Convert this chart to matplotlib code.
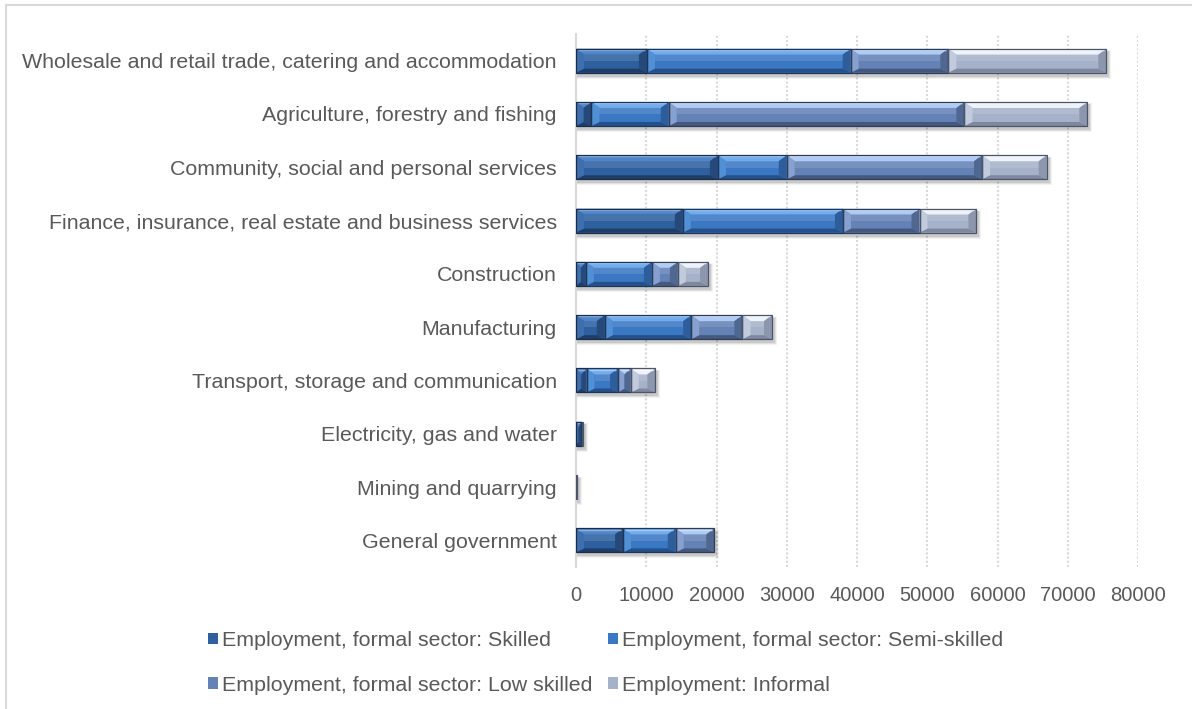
import numpy as np
import matplotlib
matplotlib.use("Agg")
import matplotlib.pyplot as plt
from matplotlib.patches import Polygon, Rectangle
from matplotlib.lines import Line2D
from matplotlib import colors as mcolors

plt.rcParams['font.family'] = ['Liberation Sans', 'DejaVu Sans']

# employment by industry, top to bottom
industries = [
    "Wholesale and retail trade, catering and accommodation",
    "Agriculture, forestry and fishing",
    "Community, social and personal services",
    "Finance, insurance, real estate and business services",
    "Construction",
    "Manufacturing",
    "Transport, storage and communication",
    "Electricity, gas and water",
    "Mining and quarrying",
    "General government",
]
skilled = [10100, 2200, 20200, 15200, 1400, 4100, 1500, 700, 20, 6700]
semi_skilled = [29000, 11000, 9800, 22800, 9400, 12300, 4500, 150, 20, 7500]
low_skilled = [13900, 42100, 27800, 10900, 3700, 7300, 1800, 50, 30, 5500]
informal = [22500, 17500, 9200, 8100, 4300, 4200, 3500, 50, 80, 0]

series_names = [
    "Employment, formal sector: Skilled",
    "Employment, formal sector: Semi-skilled",
    "Employment, formal sector: Low skilled",
    "Employment: Informal",
]
series_values = [skilled, semi_skilled, low_skilled, informal]

# face, top bevel, bottom bevel, left bevel, right bevel, outline
palettes = [
    ("#2E5F9E", "#4E86C9", "#1E3E68", "#3D6EAE", "#26497A", "#1A2C47"),
    ("#3A78C3", "#72ACEE", "#25508A", "#5290D6", "#2D5D9B", "#1D3557"),
    ("#6482B6", "#AECBF3", "#45597F", "#86A1CF", "#506790", "#2E3B55"),
    ("#A6B2C9", "#EEF3FA", "#7E89A0", "#C2CBDD", "#8C97AE", "#4C5568"),
]

text_col = "#595959"
grid_col = "#D9D9D9"

W, H = 1192, 709
fig = plt.figure(figsize=(W / 100, H / 100), dpi=100)
ax = fig.add_axes([576 / W, 1 - 567 / H, (1138 - 576) / W, (567 - 34) / H])

n = len(industries)
ypos = np.arange(n)
bar_h = 0.45
xmax = 80000
ax.set_xlim(0, xmax)
ax.set_ylim(n - 0.5, -0.5)

# size of one pixel in data units
ax_w_px = 1138 - 576
ax_h_px = 567 - 34
px_x = xmax / ax_w_px
px_y = n / ax_h_px


def blend(c, other, t):
    a = np.array(mcolors.to_rgb(c))
    b = np.array(mcolors.to_rgb(other))
    return tuple(a * (1 - t) + b * t)


# soft drop shadow under each full bar
totals = np.sum(series_values, axis=0)
for yc, tot in zip(ypos, totals):
    if tot <= 0:
        continue
    for k, a in enumerate([0.10, 0.07, 0.05]):
        grow = k + 1
        ax.add_patch(Rectangle(
            (2 * px_x - grow * px_x, yc - bar_h / 2 + 3 * px_y - grow * px_y * 0.5),
            tot + grow * 2 * px_x, bar_h + grow * px_y * 1.5,
            facecolor="#000000", alpha=a, edgecolor="none", zorder=2))

left = np.zeros(n)
containers = []
for vals, name, pal in zip(series_values, series_names, palettes):
    vals = np.array(vals, dtype=float)
    face, top, bot, lft, rgt, edge = pal
    bc = ax.barh(ypos, vals, left=left, height=bar_h, color=face,
                 edgecolor="none", zorder=3, label=name)
    containers.append(bc)

    # bevelled look on every segment
    for yc, x0, w in zip(ypos, left, vals):
        if w <= 0:
            continue
        x1 = x0 + w
        t0, t1 = yc - bar_h / 2, yc + bar_h / 2
        bx = min(8 * px_x, w / 2)
        byt = 6 * px_y
        byb = 4 * px_y
        # upper half of the face a little lighter
        ax.add_patch(Rectangle((x0 + bx, t0 + byt), max(w - 2 * bx, 0),
                               (bar_h - byt - byb) * 0.45,
                               facecolor=blend(face, "white", 0.12),
                               edgecolor="none", zorder=4))
        pieces = [
            ([(x0, t0), (x1, t0), (x1 - bx, t0 + byt), (x0 + bx, t0 + byt)], top),
            ([(x0, t1), (x1, t1), (x1 - bx, t1 - byb), (x0 + bx, t1 - byb)], bot),
            ([(x0, t0), (x0 + bx, t0 + byt), (x0 + bx, t1 - byb), (x0, t1)], lft),
            ([(x1, t0), (x1 - bx, t0 + byt), (x1 - bx, t1 - byb), (x1, t1)], rgt),
        ]
        for pts, col in pieces:
            ax.add_patch(Polygon(pts, closed=True, facecolor=col,
                                 edgecolor="none", zorder=4))
        # thin light line just under the top edge
        ax.plot([x0 + bx * 0.3, x1 - bx * 0.3], [t0 + 1.2 * px_y] * 2,
                color=blend(top, "white", 0.35), lw=1.0, zorder=4.5,
                solid_capstyle="butt")
        ax.add_patch(Rectangle((x0, t0), w, bar_h, fill=False,
                               edgecolor=edge, linewidth=0.9, zorder=5))
    left = left + vals

ax.set_yticks(ypos)
ax.set_yticklabels(industries)
ax.set_xticks(np.arange(0, xmax + 1, 10000))
ax.set_xticklabels([str(v) for v in range(0, xmax + 1, 10000)])
ax.tick_params(axis="y", length=0, pad=13.7, labelsize=15.4, labelcolor=text_col)
ax.tick_params(axis="x", length=0, pad=13.5, labelsize=14.5, labelcolor=text_col)

ax.xaxis.grid(True, color=grid_col, linestyle=(0, (1, 1)), linewidth=1.5)
ax.set_axisbelow(True)
for s in ["top", "right", "bottom"]:
    ax.spines[s].set_visible(False)
ax.spines["left"].set_color(grid_col)
ax.spines["left"].set_linewidth(1.5)

order = [0, 2, 1, 3]
ax.legend([containers[i] for i in order], [series_names[i] for i in order],
          ncol=2, loc="upper left", bbox_to_anchor=(208 / W, 1 - 631 / H),
          bbox_transform=fig.transFigure, frameon=False, fontsize=15.4,
          labelcolor=text_col, handlelength=0.45, handleheight=0.45,
          handletextpad=0.2, columnspacing=0.75, labelspacing=1.2,
          borderpad=0, borderaxespad=0)

# frame edges of the chart container
fig.add_artist(Line2D([5.5 / W, 5.5 / W], [0, 1 - 4.5 / H],
                      transform=fig.transFigure, color=grid_col, lw=1.5))
fig.add_artist(Line2D([5.5 / W, 1], [1 - 4.5 / H, 1 - 4.5 / H],
                      transform=fig.transFigure, color=grid_col, lw=1.5))

fig.savefig("out.png", dpi=100)
